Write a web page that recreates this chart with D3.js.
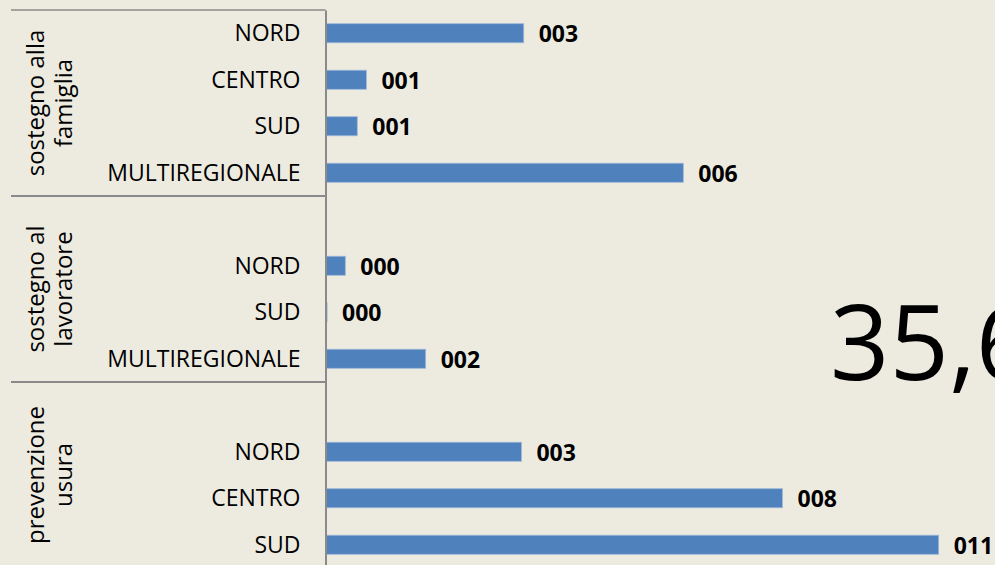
<!DOCTYPE html>
<html>
<head>
<meta charset="utf-8">
<script src="https://cdn.jsdelivr.net/npm/d3@7"></script>
<style>
  html, body { margin: 0; padding: 0; background: #EDEBE0; overflow: hidden; }
  #chart-area { width: 995px; height: 565px; }
  text { font-family: "Open Sans", "DejaVu Sans", sans-serif; fill: #000; }
</style>
</head>
<body>
<div id="chart-area"></div>
<script>
// chart data (empty slots keep the gaps of the original chart)
var categories = ["NORD", "CENTRO", "SUD", "MULTIREGIONALE",
                  "", "NORD", "SUD", "MULTIREGIONALE",
                  "", "NORD", "CENTRO", "SUD"];
var values = [3.46, 0.70, 0.54, 6.26,
              null, 0.33, 0.01, 1.74,
              null, 3.42, 8.00, 10.74];
var groupOf = [0, 0, 0, 0, 1, 1, 1, 1, 2, 2, 2, 2];
var groupLabels = [["sostegno alla", "famiglia"],
                   ["sostegno al", "lavoratore"],
                   ["prevenzione", "usura"]];
var bigText = "35,6";

var chartWidth = 995,
    chartHeight = 565;

var svg = d3.select("#chart-area").append("svg")
    .attr("width", chartWidth)
    .attr("height", chartHeight);

svg.append("rect")
    .attr("width", chartWidth)
    .attr("height", chartHeight)
    .attr("fill", "#EDEBE0");

var axisX = 325.5;

// scales
var y = d3.scaleBand()
    .domain(d3.range(categories.length))
    .range([10, 568])
    .paddingInner(0.59)
    .paddingOuter(0.295);

var x = d3.scaleLinear()
    .domain([0, 12])
    .range([axisX + 1, axisX + 1 + 684]);

var fmt = d3.format("03.0f");

// bars
svg.selectAll(".bar")
    .data(d3.range(categories.length).filter(i => values[i] !== null))
    .enter()
    .append("rect")
    .attr("class", "bar")
    .attr("x", x(0))
    .attr("y", i => y(i))
    .attr("width", i => x(values[i]) - x(0))
    .attr("height", y.bandwidth())
    .attr("fill", "#4F81BD")
    .attr("stroke", "#9DB8DA")
    .attr("stroke-width", 0.8);

// value labels
svg.selectAll(".value")
    .data(d3.range(categories.length).filter(i => values[i] !== null))
    .enter()
    .append("text")
    .attr("class", "value")
    .attr("x", i => x(values[i]) + 15)
    .attr("y", i => y(i) + y.bandwidth() / 2 + 9)
    .style("font-size", "23px")
    .style("font-weight", "bold")
    .text(i => fmt(values[i]));

// category axis
var yAxis = d3.axisLeft(y)
    .tickSizeInner(0)
    .tickSizeOuter(0)
    .tickPadding(25)
    .tickFormat(i => categories[i]);

var yAxisGroup = svg.append("g")
    .attr("class", "y-axis axis")
    .attr("transform", "translate(" + axisX + ",0)")
    .call(yAxis);

yAxisGroup.select(".domain")
    .attr("stroke", "#8A8A8A")
    .attr("stroke-width", 2);

yAxisGroup.selectAll(".tick text")
    .attr("dy", null)
    .attr("y", 8)
    .style("font-size", "23px")
    .style("font-family", "'Open Sans', sans-serif")
    .attr("fill", "#000");

// group separators and labels
var step = y.step();
groupLabels.forEach(function(lines, g) {
    var idx = groupOf.indexOf(g);
    var n = groupOf.filter(d => d === g).length;
    var top = 10 + idx * step;
    var center = top + n * step / 2;

    svg.append("line")
        .attr("x1", 11)
        .attr("x2", axisX)
        .attr("y1", top)
        .attr("y2", top)
        .attr("stroke", "#8A8A8A")
        .attr("stroke-width", g === 0 ? 1.5 : 2);

    var lab = svg.append("text")
        .attr("transform", "translate(0," + center + ") rotate(-90)")
        .attr("text-anchor", "middle")
        .style("font-size", "24px");

    lines.forEach(function(l, k) {
        lab.append("tspan")
            .attr("x", 0)
            .attr("y", 44 + k * 28)
            .text(l);
    });
});

// big overlay number (cut by the right edge, as in the original)
svg.append("text")
    .attr("x", 830)
    .attr("y", 380)
    .style("font-size", "104px")
    .text(bigText);
</script>
</body>
</html>
